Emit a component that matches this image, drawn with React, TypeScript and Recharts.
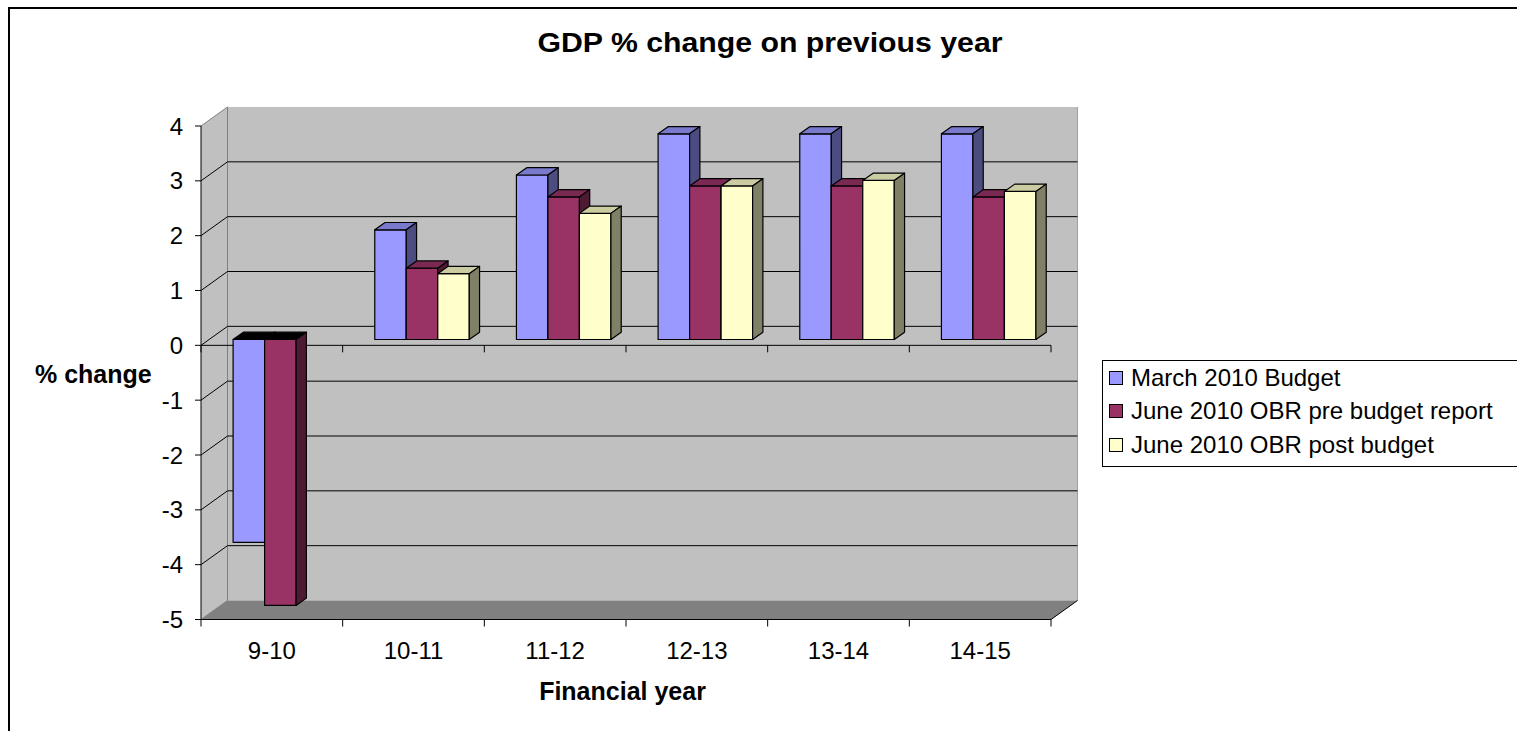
import React from "react"
import { BarChart, Bar, XAxis, YAxis, ReferenceArea, Legend } from "recharts"

const years = ["9-10", "10-11", "11-12", "12-13", "13-14", "14-15"]
const march2010Budget = [-3.7, 2.0, 3.0, 3.75, 3.75, 3.75]
const obrPreBudget = [-4.85, 1.3, 2.6, 2.8, 2.8, 2.6]
const obrPostBudget = [null, 1.2, 2.3, 2.8, 2.9, 2.7]
const seriesNames = ["March 2010 Budget", "June 2010 OBR pre budget report", "June 2010 OBR post budget"]
const yTicks = [-5, -4, -3, -2, -1, 0, 1, 2, 3, 4]

const data = years.map((year, i) => ({
  year,
  march: march2010Budget[i],
  pre: obrPreBudget[i],
  post: obrPostBudget[i],
}))

const FONT = "'Liberation Sans', Arial, sans-serif"
// depth of the walls and of the boxes
const DX = 26.5
const DY = 19
const BDX = 10.3
const BDY = 7.3
const SX = (DX - BDX) / 2
const SY = (DY - BDY) / 2

function Backdrop(props: any) {
  const { x, y, width, height } = props
  const right = x + width
  const bottom = y + height
  const yMin = yTicks[0]
  const yMax = yTicks[yTicks.length - 1]
  const yAt = (v: number) => y + ((yMax - v) / (yMax - yMin)) * height
  const n = years.length
  const edges = Array.from({ length: n + 1 }, (_, i) => x + (i * width) / n)
  const y0 = yAt(0)
  return (
    <g>
      {/* back wall */}
      <rect x={x + DX} y={y - DY} width={width} height={height} fill="#C0C0C0" />
      {/* side wall */}
      <polygon
        points={`${x},${y} ${x + DX},${y - DY} ${x + DX},${bottom - DY} ${x},${bottom}`}
        fill="#C0C0C0"
      />
      {/* floor */}
      <polygon
        points={`${x},${bottom} ${x + DX},${bottom - DY} ${right + DX},${bottom - DY} ${right},${bottom}`}
        fill="#808080"
      />
      <line x1={x + DX} y1={y - DY} x2={x + DX} y2={bottom - DY} stroke="#808080" />
      <line x1={right + DX} y1={y - DY} x2={right + DX} y2={bottom - DY} stroke="#A0A0A0" />
      {yTicks.map((v) => {
        const yy = yAt(v)
        const edge = v === yMin || v === yMax
        return (
          <g key={v}>
            <line x1={x} y1={yy} x2={x + DX} y2={yy - DY} stroke={edge ? "#808080" : "#000"} />
            {!edge && <line x1={x + DX} y1={yy - DY} x2={right + DX} y2={yy - DY} stroke="#000" />}
          </g>
        )
      })}
      {/* zero line */}
      <line x1={x} y1={y0} x2={right} y2={y0} stroke="#000" />
      {edges.map((ex, i) => (
        <line key={"z" + i} x1={ex} y1={y0} x2={ex} y2={y0 + 7} stroke="#000" />
      ))}
      {/* front edge of floor */}
      <line x1={right} y1={bottom} x2={right + DX} y2={bottom - DY} stroke="#000" />
      <line x1={x} y1={bottom} x2={right} y2={bottom} stroke="#000" />
      {edges.map((ex, i) => (
        <line key={"b" + i} x1={ex} y1={bottom} x2={ex} y2={bottom + 7} stroke="#000" />
      ))}
    </g>
  )
}

function Box3D(props: any) {
  const { x, y, width, height, payload, dataKey, face, top, side } = props
  const v = payload ? payload[dataKey] : null
  if (v == null) return <g />
  const y1 = Math.min(y, y + height) - SY
  const y2 = Math.max(y, y + height) - SY
  const x1 = x + SX
  const x2 = x + width + SX
  const topColor = v < 0 ? "#000" : top
  return (
    <g stroke="#000" strokeWidth={1.2} strokeLinejoin="round">
      <rect x={x1} y={y1} width={x2 - x1} height={y2 - y1} fill={face} />
      <polygon
        points={`${x1},${y1} ${x1 + BDX},${y1 - BDY} ${x2 + BDX},${y1 - BDY} ${x2},${y1}`}
        fill={topColor}
      />
      <polygon
        points={`${x2},${y1} ${x2 + BDX},${y1 - BDY} ${x2 + BDX},${y2 - BDY} ${x2},${y2}`}
        fill={side}
      />
    </g>
  )
}

function LegendBox(props: any) {
  const items = [...(props.payload || [])].sort(
    (a: any, b: any) => seriesNames.indexOf(a.value) - seriesNames.indexOf(b.value)
  )
  return (
    <div
      style={{
        border: "1px solid #000",
        background: "#fff",
        boxSizing: "border-box",
        width: 416,
        height: 107,
        paddingLeft: 6,
        fontFamily: FONT,
        fontSize: 24,
        color: "#000",
      }}
    >
      {items.map((p: any) => (
        <div key={p.value} style={{ height: 33.5, display: "flex", alignItems: "center" }}>
          <span
            style={{
              display: "inline-block",
              width: 12,
              height: 12,
              border: "1px solid #000",
              background: p.color,
              marginRight: 8,
            }}
          />
          <span style={{ whiteSpace: "nowrap" }}>{p.value}</span>
        </div>
      ))}
    </div>
  )
}

export default function App() {
  return (
    <div
      style={{
        position: "fixed",
        left: 0,
        top: 0,
        width: 1517,
        height: 731,
        overflow: "hidden",
        background: "#fff",
        fontFamily: FONT,
      }}
    >
      <svg width={1517} height={731} style={{ position: "absolute", left: 0, top: 0 }}>
        <line x1={9} y1={8} x2={1517} y2={8} stroke="#000" strokeWidth={2} />
        <line x1={9} y1={7} x2={9} y2={731} stroke="#000" strokeWidth={2} />
      </svg>
      <div style={{ position: "absolute", left: 0, top: 0, width: 1100, height: 731 }}>
        <BarChart
          width={1100}
          height={731}
          data={data}
          margin={{ top: 126, right: 49, bottom: 81.5, left: 141 }}
          barGap={0}
        >
          <XAxis
            dataKey="year"
            height={30}
            axisLine={false}
            tickLine={false}
            tickSize={6}
            tickMargin={16}
            tick={{ fill: "#000", fontSize: 24, fontFamily: FONT }}
          />
          <YAxis
            width={60}
            domain={[-5, 4]}
            ticks={yTicks}
            interval={0}
            allowDataOverflow
            axisLine={{ stroke: "#000" }}
            tickLine={{ stroke: "#000" }}
            tickSize={6}
            tickMargin={12}
            tick={{ fill: "#000", fontSize: 24, fontFamily: FONT }}
          />
          <ReferenceArea y1={-5} y2={4} ifOverflow="visible" shape={<Backdrop />} />
          <Bar
            dataKey="march"
            name={seriesNames[0]}
            fill="#9999FF"
            barSize={31.5}
            isAnimationActive={false}
            shape={(p: any) => <Box3D {...p} dataKey="march" face="#9999FF" top="#7A7ACC" side="#4C4C80" />}
          />
          <Bar
            dataKey="pre"
            name={seriesNames[1]}
            fill="#993366"
            barSize={31.5}
            isAnimationActive={false}
            shape={(p: any) => <Box3D {...p} dataKey="pre" face="#993366" top="#7A2952" side="#4D1A33" />}
          />
          <Bar
            dataKey="post"
            name={seriesNames[2]}
            fill="#FFFFCC"
            barSize={31.5}
            isAnimationActive={false}
            shape={(p: any) => <Box3D {...p} dataKey="post" face="#FFFFCC" top="#CCCCA3" side="#808066" />}
          />
          <Legend
            layout="vertical"
            align="center"
            verticalAlign="middle"
            content={<LegendBox />}
            wrapperStyle={{ position: "absolute", left: 1102, top: 360, width: 416, height: 107 }}
          />
        </BarChart>
      </div>
      <div
        style={{
          position: "absolute",
          left: 470,
          top: 30,
          width: 600,
          textAlign: "center",
          fontSize: 27,
          lineHeight: "27px",
          fontWeight: "bold",
          transform: "scaleX(1.12)",
          whiteSpace: "nowrap",
        }}
      >
        GDP % change on previous year
      </div>
      <div
        style={{
          position: "absolute",
          left: 35,
          top: 362,
          fontSize: 25,
          lineHeight: "25px",
          fontWeight: "bold",
          whiteSpace: "nowrap",
        }}
      >
        % change
      </div>
      <div
        style={{
          position: "absolute",
          left: 322.5,
          top: 679,
          width: 600,
          textAlign: "center",
          fontSize: 25,
          lineHeight: "25px",
          fontWeight: "bold",
          whiteSpace: "nowrap",
        }}
      >
        Financial year
      </div>
    </div>
  )
}
